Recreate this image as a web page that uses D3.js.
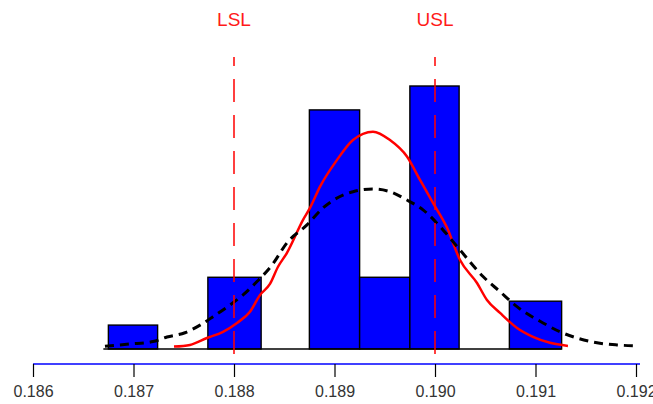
<!DOCTYPE html>
<html lang="en">
<head>
    <meta charset="UTF-8">
    <title>Histogram</title>
    <style>
        body { margin: 0; background: #fff; }
        text { font-family: "Liberation Sans", Arial, sans-serif; }
    </style>
</head>
<body>
<div id="graph"></div>
<script src="https://d3js.org/d3.v7.min.js"></script>
<script>
    // chart size
    const WIDTH = 653;
    const HEIGHT = 404;

    // histogram bins (left / right edges) and counts
    const binLo = [0.18675, 0.18774, 0.18875, 0.18925, 0.18975, 0.19074];
    const binHi = [0.18724, 0.18827, 0.18925, 0.18975, 0.19024, 0.19126];
    const counts = [1, 3, 10, 3, 11, 2];

    // fitted normal curve (black dashed)
    const normX = [0.186716, 0.186965, 0.187194, 0.187333, 0.187512, 0.187662, 0.187791, 0.187960,
        0.188090, 0.188229, 0.188378, 0.188527, 0.188726, 0.188886, 0.189184, 0.189383,
        0.189552, 0.189721, 0.189881, 0.190080, 0.190249, 0.190478, 0.190647, 0.190816,
        0.191075, 0.191244, 0.191413, 0.191612, 0.191811, 0.192010];
    const normY = [0.12, 0.21, 0.31, 0.50, 0.68, 1.00, 1.35, 1.84,
        2.26, 2.82, 3.51, 4.44, 5.19, 5.90, 6.58, 6.69,
        6.58, 6.23, 5.82, 4.98, 4.14, 3.03, 2.40, 1.77,
        1.09, 0.72, 0.46, 0.26, 0.17, 0.13];

    // density curve (red)
    const densX = [0.187403, 0.187562, 0.187731, 0.187891, 0.188030, 0.188159, 0.188259, 0.188358,
        0.188438, 0.188527, 0.188687, 0.188756, 0.188856, 0.189025, 0.189184, 0.189383,
        0.189552, 0.189721, 0.189851, 0.189980, 0.190119, 0.190249, 0.190418, 0.190517,
        0.190647, 0.190816, 0.190975, 0.191144, 0.191323];
    const densY = [0.10, 0.17, 0.46, 0.72, 1.09, 1.56, 2.26, 2.72,
        3.44, 4.02, 5.40, 5.90, 6.79, 7.91, 8.74, 9.09,
        8.74, 8.05, 7.07, 6.11, 5.08, 3.72, 2.76, 2.05,
        1.51, 0.88, 0.51, 0.26, 0.13];

    // spec limits
    const limitNames = ["LSL", "USL"];
    const limitValues = [0.188, 0.190];

    // axis ticks
    const tickValues = [0.186, 0.187, 0.188, 0.189, 0.190, 0.191, 0.192];

    const xScale = d3.scaleLinear()
        .domain([0.186, 0.192])
        .range([33, 636]);

    const yScale = d3.scaleLinear()
        .domain([0, 11])
        .range([349, 86]);

    const svg = d3.select("#graph")
        .append("svg")
        .attr("width", WIDTH)
        .attr("height", HEIGHT);

    // bars
    svg.selectAll("rect.bar")
        .data(counts)
        .enter()
        .append("rect")
        .attr("class", "bar")
        .attr("x", (d, i) => xScale(binLo[i]))
        .attr("width", (d, i) => xScale(binHi[i]) - xScale(binLo[i]))
        .attr("y", d => yScale(d))
        .attr("height", d => yScale(0) - yScale(d))
        .attr("fill", "#0000ff")
        .attr("stroke", "#000")
        .attr("stroke-width", 1.4);

    // baseline under the bars
    svg.append("line")
        .attr("x1", xScale(0.1867))
        .attr("x2", xScale(binHi[binHi.length - 1]))
        .attr("y1", yScale(0))
        .attr("y2", yScale(0))
        .attr("stroke", "#000")
        .attr("stroke-width", 1.4);

    const line = d3.line()
        .x(d => xScale(d[0]))
        .y(d => yScale(d[1]))
        .curve(d3.curveMonotoneX);

    // red density curve
    svg.append("path")
        .datum(densX.map((x, i) => [x, densY[i]]))
        .attr("d", line)
        .attr("fill", "none")
        .attr("stroke", "#ff0000")
        .attr("stroke-width", 2.5);

    // black dashed normal curve
    svg.append("path")
        .datum(normX.map((x, i) => [x, normY[i]]))
        .attr("d", line)
        .attr("fill", "none")
        .attr("stroke", "#000")
        .attr("stroke-width", 3)
        .attr("stroke-dasharray", "9,6");

    // LSL / USL lines and labels
    svg.selectAll("line.limit")
        .data(limitValues)
        .enter()
        .append("line")
        .attr("class", "limit")
        .attr("x1", d => xScale(d))
        .attr("x2", d => xScale(d))
        .attr("y1", 57)
        .attr("y2", 367)
        .attr("stroke", "#ff0000")
        .attr("stroke-width", 1.5)
        .attr("stroke-dasharray", "23,13")
        .attr("stroke-dashoffset", 14);

    svg.selectAll("text.limit")
        .data(limitValues)
        .enter()
        .append("text")
        .attr("class", "limit")
        .attr("x", d => xScale(d))
        .attr("y", 26)
        .attr("text-anchor", "middle")
        .attr("font-size", 19)
        .attr("fill", "#ff1a1a")
        .text((d, i) => limitNames[i]);

    // x axis
    const axis = svg.append("g")
        .attr("transform", `translate(0, 364)`)
        .call(d3.axisBottom(xScale)
            .tickValues(tickValues)
            .tickFormat(d3.format(".3f"))
            .tickSizeOuter(0)
            .tickSize(13)
            .tickPadding(9));

    axis.select(".domain")
        .attr("stroke", "#0000ff")
        .attr("stroke-width", 1.5)
        .attr("d", `M${xScale(0.186)},0H640`);
    axis.selectAll(".tick line")
        .attr("stroke", "#000")
        .attr("stroke-width", 1.2);
    axis.selectAll(".tick text")
        .attr("font-size", 16)
        .attr("font-family", "'Liberation Sans', Arial, sans-serif")
        .attr("fill", "#333");
</script>
</body>
</html>
